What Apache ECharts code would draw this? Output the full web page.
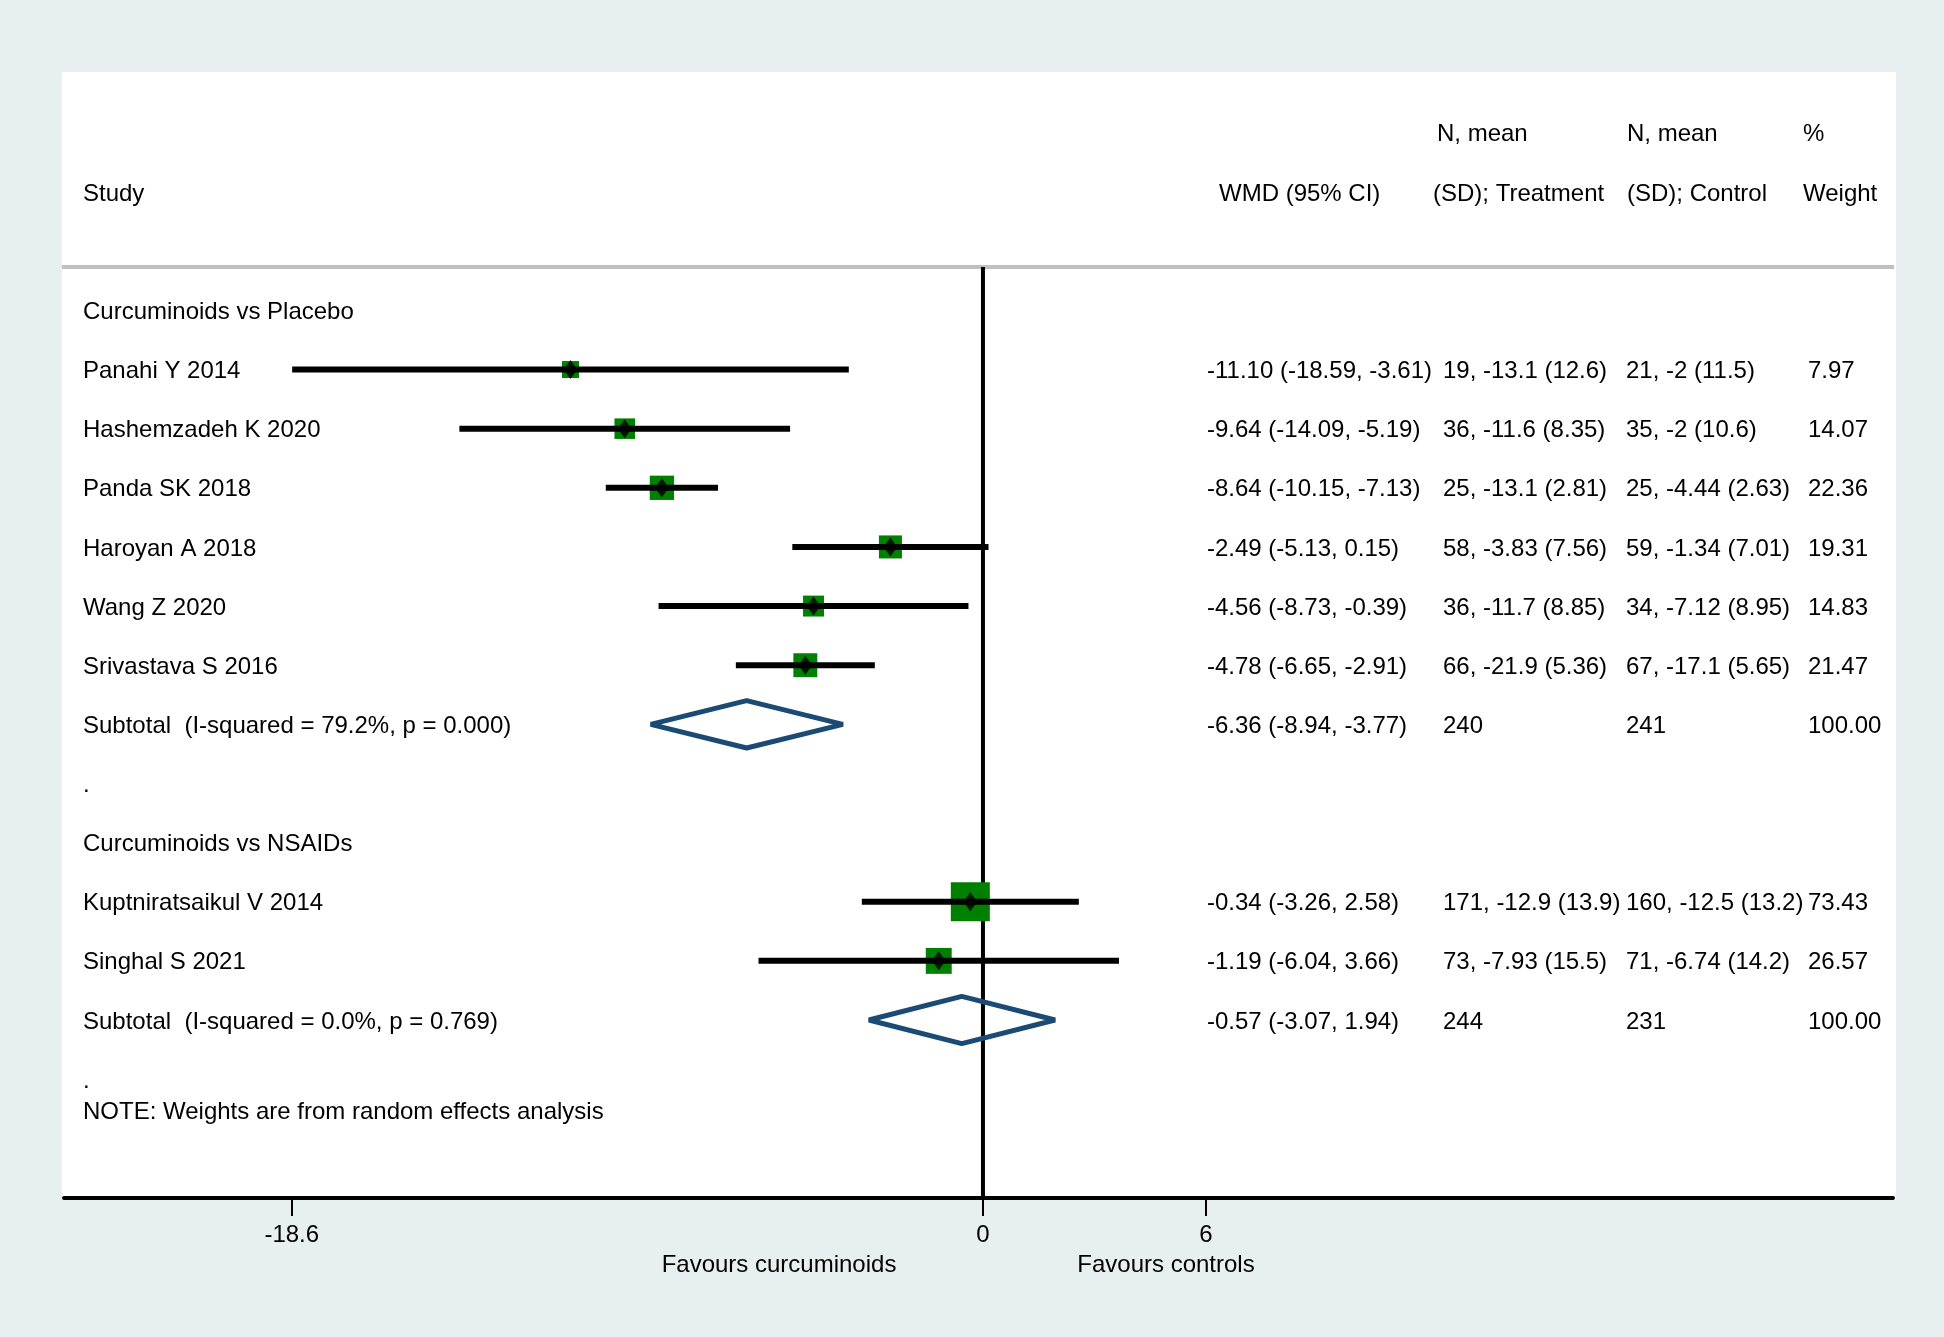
<!DOCTYPE html>
<html><head><meta charset="utf-8">
<script src="https://cdn.jsdelivr.net/npm/echarts@6/dist/echarts.min.js"></script>
<style>html,body{margin:0;padding:0;background:#e8eff1}#c{width:1944px;height:1337px}</style>
</head><body><div id="c"></div><script>
// ---- data ----
const groupNames = ['Curcuminoids vs Placebo', 'Curcuminoids vs NSAIDs'];
const studyNames = ['Panahi Y 2014', 'Hashemzadeh K 2020', 'Panda SK 2018', 'Haroyan A 2018', 'Wang Z 2020', 'Srivastava S 2016', 'Kuptniratsaikul V 2014', 'Singhal S 2021'];
const studyGroup = [0, 0, 0, 0, 0, 0, 1, 1];
const wmd = [-11.10, -9.64, -8.64, -2.49, -4.56, -4.78, -0.34, -1.19];
const ciLow = [-18.59, -14.09, -10.15, -5.13, -8.73, -6.65, -3.26, -6.04];
const ciHigh = [-3.61, -5.19, -7.13, 0.15, -0.39, -2.91, 2.58, 3.66];
const nTreat = [19, 36, 25, 58, 36, 66, 171, 73];
const meanTreat = [-13.1, -11.6, -13.1, -3.83, -11.7, -21.9, -12.9, -7.93];
const sdTreat = [12.6, 8.35, 2.81, 7.56, 8.85, 5.36, 13.9, 15.5];
const nCtrl = [21, 35, 25, 59, 34, 67, 160, 71];
const meanCtrl = [-2, -2, -4.44, -1.34, -7.12, -17.1, -12.5, -6.74];
const sdCtrl = [11.5, 10.6, 2.63, 7.01, 8.95, 5.65, 13.2, 14.2];
const weight = [7.97, 14.07, 22.36, 19.31, 14.83, 21.47, 73.43, 26.57];
const subWmd = [-6.36, -0.57];
const subLow = [-8.94, -3.07];
const subHigh = [-3.77, 1.94];
const subNTreat = [240, 244];
const subNCtrl = [241, 231];
const subISq = [79.2, 0.0];
const subP = [0.000, 0.769];
const xTicks = [-18.6, 0, 6];
const noteText = 'NOTE: Weights are from random effects analysis';

// ---- layout of rows ----
const rows = [];
let r = 0;
groupNames.forEach((g, gi) => {
  rows.push({kind: 'head', g: gi, row: r++});
  studyNames.forEach((s, i) => { if (studyGroup[i] === gi) rows.push({kind: 'study', i: i, row: r++}); });
  rows.push({kind: 'sub', g: gi, row: r++});
  rows.push({kind: 'dot', row: r++});
});
rows.push({kind: 'note', row: r - 1 + 0.53});
const studyRow = [], subRow = [];
rows.forEach(o => { if (o.kind === 'study') studyRow[o.i] = o.row; if (o.kind === 'sub') subRow[o.g] = o.row; });

const FONT = '24px "Liberation Sans", Arial, Helvetica, sans-serif';
const Y_MIN = -0.734, Y_MAX = 15.01;
const COLX = [83, 1207, 1443, 1626, 1808];
const TEXT_DY = 2;
const fmtCI = (m, l, h) => m.toFixed(2) + ' (' + l.toFixed(2) + ', ' + h.toFixed(2) + ')';

function txt(x, y, s, align) {
  return {type: 'text', style: {text: s, x: x, y: y + TEXT_DY, fill: '#000', font: FONT, textAlign: align || 'left', textVerticalAlign: 'middle'}};
}

const chart = echarts.init(document.getElementById('c'), null, {renderer: 'canvas'});
const option = {
  animation: false,
  backgroundColor: '#e8eff1',
  grid: {left: 64, right: 51, top: 267, bottom: 139, containLabel: false},
  xAxis: {
    type: 'value', min: -24.73, max: 24.49,
    splitLine: {show: false},
    axisLine: {show: true, onZero: false, lineStyle: {color: '#000', width: 4}},
    axisTick: {show: true, customValues: xTicks, length: 18, lineStyle: {color: '#000', width: 2}},
    axisLabel: {show: true, customValues: xTicks, margin: 25, color: '#000', fontSize: 24,
      fontFamily: '"Liberation Sans", Arial, sans-serif', formatter: v => String(v)}
  },
  yAxis: {type: 'value', inverse: true, min: Y_MIN, max: Y_MAX, show: false},
  graphic: [
    {type: 'rect', z: -100, shape: {x: 62, y: 72, width: 1834, height: 1128}, style: {fill: '#fff'}},
    {type: 'line', z: -50, shape: {x1: 62, y1: 267, x2: 1894, y2: 267}, style: {stroke: '#c0c0c0', lineWidth: 4}},
    {type: 'text', x: 83, y: 194, style: {text: 'Study', font: FONT, fill: '#000', verticalAlign: 'middle'}},
    {type: 'text', x: 1219, y: 194, style: {text: 'WMD (95% CI)', font: FONT, fill: '#000', verticalAlign: 'middle'}},
    {type: 'text', x: 1437, y: 134, style: {text: 'N, mean', font: FONT, fill: '#000', verticalAlign: 'middle'}},
    {type: 'text', x: 1433, y: 194, style: {text: '(SD); Treatment', font: FONT, fill: '#000', verticalAlign: 'middle'}},
    {type: 'text', x: 1627, y: 134, style: {text: 'N, mean', font: FONT, fill: '#000', verticalAlign: 'middle'}},
    {type: 'text', x: 1627, y: 194, style: {text: '(SD); Control', font: FONT, fill: '#000', verticalAlign: 'middle'}},
    {type: 'text', x: 1803, y: 134, style: {text: '%', font: FONT, fill: '#000', verticalAlign: 'middle'}},
    {type: 'text', x: 1803, y: 194, style: {text: 'Weight', font: FONT, fill: '#000', verticalAlign: 'middle'}},
    {type: 'text', x: 779, y: 1265, style: {text: 'Favours curcuminoids', font: FONT, fill: '#000', align: 'center', verticalAlign: 'middle'}},
    {type: 'text', x: 1166, y: 1265, style: {text: 'Favours controls', font: FONT, fill: '#000', align: 'center', verticalAlign: 'middle'}}
  ],
  series: [
    { // zero line
      type: 'custom', z: 1, data: [[0]],
      renderItem: (p, api) => {
        const a = api.coord([0, Y_MIN]), b = api.coord([0, Y_MAX]);
        return {type: 'line', shape: {x1: a[0], y1: a[1], x2: b[0], y2: b[1]}, style: {stroke: '#000', lineWidth: 4}};
      }
    },
    { // weight boxes
      type: 'custom', z: 2,
      data: wmd.map((m, i) => [m, studyRow[i], weight[i]]),
      renderItem: (p, api) => {
        const c = api.coord([api.value(0), api.value(1)]);
        const s = 3.83 * Math.sqrt(api.value(2)) + 6.2;
        return {type: 'rect', shape: {x: c[0] - s / 2, y: c[1] - s / 2, width: s, height: s}, style: {fill: '#008000'}};
      }
    },
    { // confidence intervals
      type: 'custom', z: 3,
      data: wmd.map((m, i) => [ciLow[i], studyRow[i], ciHigh[i]]),
      renderItem: (p, api) => {
        const a = api.coord([api.value(0), api.value(1)]), b = api.coord([api.value(2), api.value(1)]);
        return {type: 'line', shape: {x1: a[0], y1: a[1], x2: b[0], y2: b[1]}, style: {stroke: '#000', lineWidth: 6}};
      }
    },
    { // point estimates
      type: 'scatter', z: 4, symbol: 'diamond', symbolSize: [14, 19],
      itemStyle: {color: '#000'},
      data: wmd.map((m, i) => [m, studyRow[i]])
    },
    { // subtotal diamonds
      type: 'custom', z: 4,
      data: subWmd.map((m, g) => [m, subRow[g], subLow[g], subHigh[g]]),
      renderItem: (p, api) => {
        const row = api.value(1);
        const l = api.coord([api.value(2), row]), rr = api.coord([api.value(3), row]);
        const t = api.coord([api.value(0), row - 0.4]), b = api.coord([api.value(0), row + 0.4]);
        return {type: 'polygon', shape: {points: [[l[0], l[1]], [t[0], t[1]], [rr[0], rr[1]], [b[0], b[1]]]},
          style: {fill: 'none', stroke: '#1b4b74', lineWidth: 5, lineJoin: 'bevel'}};
      }
    },
    { // text rows
      type: 'custom', z: 5,
      data: rows.map(o => [0, o.row]),
      renderItem: (p, api) => {
        const o = rows[p.dataIndex];
        const y = api.coord([0, o.row])[1];
        const kids = [];
        if (o.kind === 'head') kids.push(txt(COLX[0], y, groupNames[o.g]));
        else if (o.kind === 'dot') kids.push(txt(COLX[0], y, '.'));
        else if (o.kind === 'note') kids.push(txt(COLX[0], y, noteText));
        else if (o.kind === 'study') {
          const i = o.i;
          kids.push(txt(COLX[0], y, studyNames[i]));
          kids.push(txt(COLX[1], y, fmtCI(wmd[i], ciLow[i], ciHigh[i])));
          kids.push(txt(COLX[2], y, nTreat[i] + ', ' + String(meanTreat[i]) + ' (' + String(sdTreat[i]) + ')'));
          kids.push(txt(COLX[3], y, nCtrl[i] + ', ' + String(meanCtrl[i]) + ' (' + String(sdCtrl[i]) + ')'));
          kids.push(txt(COLX[4], y, weight[i].toFixed(2)));
        } else if (o.kind === 'sub') {
          const g = o.g;
          kids.push(txt(COLX[0], y, 'Subtotal  (I-squared = ' + subISq[g].toFixed(1) + '%, p = ' + subP[g].toFixed(3) + ')'));
          kids.push(txt(COLX[1], y, fmtCI(subWmd[g], subLow[g], subHigh[g])));
          kids.push(txt(COLX[2], y, String(subNTreat[g])));
          kids.push(txt(COLX[3], y, String(subNCtrl[g])));
          kids.push(txt(COLX[4], y, (100).toFixed(2)));
        }
        return {type: 'group', children: kids};
      }
    }
  ]
};
chart.setOption(option);
</script></body></html>
